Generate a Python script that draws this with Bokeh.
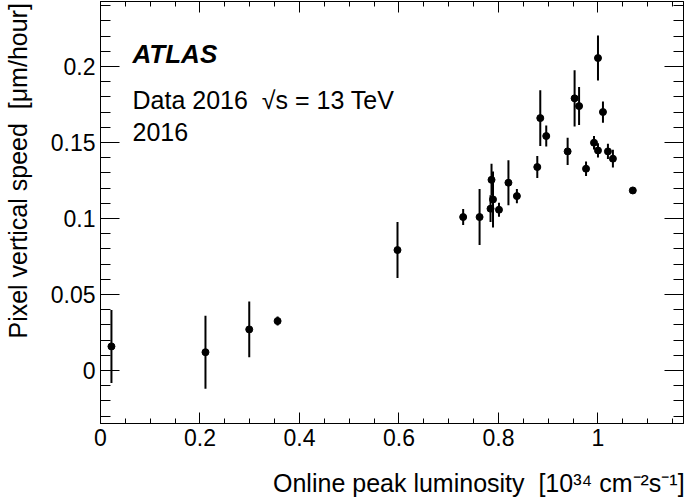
import math
from bokeh.plotting import figure
from bokeh.models import (Range1d, LinearAxis, SingleIntervalTicker,
                          CustomJSTickFormatter, Label, ColumnDataSource)
from bokeh.embed import file_html
from bokeh.resources import INLINE

# ---- data ----
lumi = [0.022, 0.211, 0.299, 0.356, 0.597, 0.729, 0.762, 0.784, 0.786, 0.789,
        0.801, 0.820, 0.837, 0.878, 0.884, 0.896, 0.939, 0.953, 0.962, 0.976,
        0.992, 1.000, 1.000, 1.010, 1.020, 1.030, 1.070]
speed = [0.0158, 0.0120, 0.0270, 0.0325, 0.0792, 0.1009, 0.1009, 0.1064, 0.1254, 0.1125,
         0.1057, 0.1235, 0.1147, 0.1338, 0.1660, 0.1542, 0.1441, 0.1790, 0.1739, 0.1327,
         0.1498, 0.2055, 0.1447, 0.1700, 0.1441, 0.1393, 0.1184]
speed_err = [0.0240, 0.0240, 0.0184, 0.0030, 0.0184, 0.0053, 0.0184, 0.0088, 0.0105, 0.0184,
             0.0046, 0.0148, 0.0047, 0.0072, 0.0183, 0.0069, 0.0090, 0.0185, 0.0125, 0.0048,
             0.0045, 0.0148, 0.0047, 0.0070, 0.0050, 0.0058, 0.0020]

NB = "\u00a0"
x_title = "Online peak luminosity" + NB + NB + "[10\u00b3\u2074 cm\u207b\u00b2s\u207b\u00b9]"
y_title = "Pixel vertical speed" + NB + NB + "[\u03bcm/hour]"
atlas_text = "ATLAS"
info_lines = ["Data 2016" + NB + NB + "\u221as = 13 TeV", "2016"]

# ---- layout ----
W, H = 685, 499
L, R, T, B = 100, 683, 1, 423          # frame edges in pixels
X0, X1 = 0.0, 1.1719
Y0, Y1 = -0.0349, 0.2427
FONT = "Liberation Sans"
X_PAD, Y_PAD = 25, 12                  # leading spaces: shift centred titles to the axis end

def dx(px):
    return X0 + (px - L) * (X1 - X0) / (R - L)

def dy(py):
    return Y1 - (py - T) * (Y1 - Y0) / (B - T)

p = figure(width=W, height=H, x_range=Range1d(X0, X1), y_range=Range1d(Y0, Y1),
           output_backend="svg", toolbar_location=None,
           min_border_left=L, min_border_right=W - R, min_border_top=T,
           min_border_bottom=H - B, background_fill_color="white",
           border_fill_color="white")
p.grid.visible = False
p.outline_line_color = "black"
p.outline_line_width = 1

fmt = CustomJSTickFormatter(code="return Number(tick.toFixed(4)).toString();")
empty = CustomJSTickFormatter(code="return '';")

def style(ax, ticker, formatter, maj, mnr, labels=True):
    ax.ticker = ticker
    ax.formatter = formatter
    ax.axis_label = None
    ax.axis_line_color = "black"
    ax.major_tick_line_color = "black"
    ax.minor_tick_line_color = "black"
    ax.major_tick_in = maj
    ax.major_tick_out = 0
    ax.minor_tick_in = mnr
    ax.minor_tick_out = 0
    if labels:
        ax.major_label_text_font = FONT
        ax.major_label_text_font_size = "23px"
        ax.major_label_text_color = "black"
        ax.major_label_standoff = 5
    else:
        ax.major_label_text_font_size = "1px"
        ax.major_label_standoff = 0

style(p.xaxis[0], SingleIntervalTicker(interval=0.2, num_minor_ticks=4), fmt, 11, 5)
style(p.yaxis[0], SingleIntervalTicker(interval=0.05, num_minor_ticks=5), fmt, 19, 10)

for ax, title, pad, standoff in ((p.xaxis[0], x_title, X_PAD, 20),
                                 (p.yaxis[0], y_title, Y_PAD, 16)):
    ax.axis_label = NB * pad + title
    ax.axis_label_text_font = FONT
    ax.axis_label_text_font_size = "25px"
    ax.axis_label_text_font_style = "normal"
    ax.axis_label_text_color = "black"
    ax.axis_label_standoff = standoff

top = LinearAxis()
style(top, SingleIntervalTicker(interval=0.2, num_minor_ticks=4), empty, 11, 5, labels=False)
p.add_layout(top, "above")
right = LinearAxis()
style(right, SingleIntervalTicker(interval=0.05, num_minor_ticks=5), empty, 19, 10, labels=False)
p.add_layout(right, "right")

lo = [v - e for v, e in zip(speed, speed_err)]
hi = [v + e for v, e in zip(speed, speed_err)]
src = ColumnDataSource(dict(lumi=lumi, speed=speed, lo=lo, hi=hi))
p.segment(x0="lumi", y0="lo", x1="lumi", y1="hi", source=src,
          line_color="black", line_width=2)
p.scatter(x="lumi", y="speed", source=src, size=7, fill_color="black",
          line_color="black")

p.add_layout(Label(x=dx(132), y=dy(53), text=atlas_text, text_font=FONT,
                   text_font_style="bold italic", text_font_size="26px",
                   text_color="black", text_align="left", text_baseline="alphabetic"))
for i, line in enumerate(info_lines):
    p.add_layout(Label(x=dx(132), y=dy(99 + 32 * i), text=line, text_font=FONT,
                       text_font_size="25px", text_color="black",
                       text_align="left", text_baseline="alphabetic"))

open("out.html", "w").write(file_html(p, INLINE))
